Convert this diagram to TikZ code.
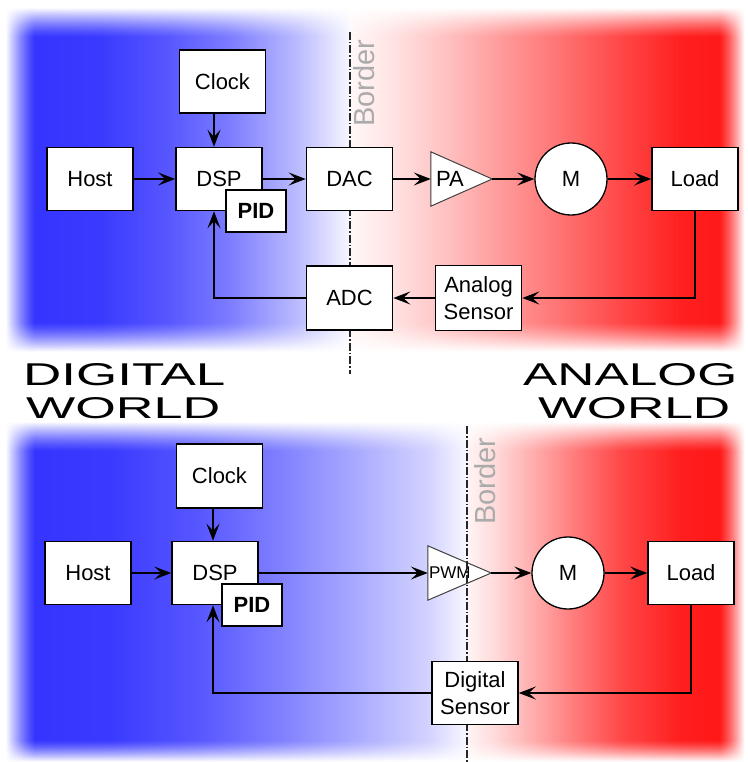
\documentclass[tikz,border=0pt]{standalone}
\usepackage{fontspec}
\usepackage{graphicx}
\setmainfont{Liberation Sans}
\usetikzlibrary{arrows.meta,calc}

% one horizontal colour segment of a panel background
\newcommand\gradseg[6]{%
  \definecolor{segL}{RGB}{#3}\definecolor{segR}{RGB}{#4}%
  \shade[left color=segL, right color=segR] (#1,#5) rectangle ({#2+0.8},#6);}

% soft white edge made of 1pt strips: #1 = first row, #2 = number of rows,
% #3 = +1 (white at the first row) or -1 (white at the last row), #4 = h or v
\newcommand\softedge[4]{%
  \foreach \k in {0,...,\numexpr#2-1\relax}{%
    \pgfmathsetmacro\op{#3>0 ? (1-(\k+0.5)/#2)^1.3 : ((\k+0.5)/#2)^1.3}%
    \ifx#4h%
      \fill[white, opacity=\op] (0,{#1+\k}) rectangle (747,{#1+\k+1});%
    \else
      \fill[white, opacity=\op] ({#1+\k},0) rectangle ({#1+\k+1},762);%
    \fi}}

\begin{document}
\begin{tikzpicture}[x=1pt,y=-1pt,
  blk/.style={draw=black, line width=1.6pt, fill=white, minimum width=86pt,
    minimum height=63pt, inner sep=0pt, align=center,
    font=\fontsize{22}{27}\selectfont},
  pidbox/.style={blk, minimum width=60pt, minimum height=42pt,
    font=\fontsize{22}{27}\selectfont\bfseries},
  motor/.style={circle, draw=black, line width=1.3pt, fill=white,
    minimum size=72pt, inner sep=0pt, font=\fontsize{22}{27}\selectfont},
  ampbox/.style={minimum width=61pt, minimum height=54pt, inner sep=0pt},
  amp/.style={draw=black!75, line width=1pt, fill=white},
  amptext/.style={anchor=west, inner sep=0pt},
  wire/.style={line width=1.7pt},
  flow/.style={wire, -{Stealth[length=17pt,width=13pt,inset=7pt]}},
  borderline/.style={line width=1.3pt, black!85,
    dash pattern=on 8pt off 2pt on 1.5pt off 2pt},
  bordertag/.style={text=black!33, rotate=90, anchor=base, inner sep=0pt,
    font=\fontsize{29}{32}\selectfont},
  world/.style={inner sep=0pt, anchor=base west},
]
\useasboundingbox (0,0) rectangle (747,762);
\fill[white] (0,0) rectangle (747,762);

% ---- background of the upper panel
\gradseg{4}{100}{50,50,255}{58,58,255}{6}{358}
\gradseg{100}{170}{58,58,255}{88,88,255}{6}{358}
\gradseg{170}{230}{88,88,255}{125,125,255}{6}{358}
\gradseg{230}{300}{125,125,255}{190,190,255}{6}{358}
\gradseg{300}{350}{190,190,255}{248,248,255}{6}{358}
\gradseg{350}{400}{255,248,248}{255,222,222}{6}{358}
\gradseg{400}{450}{255,222,222}{255,190,190}{6}{358}
\gradseg{450}{500}{255,190,190}{255,155,155}{6}{358}
\gradseg{500}{560}{255,155,155}{255,115,115}{6}{358}
\gradseg{560}{620}{255,115,115}{255,72,72}{6}{358}
\gradseg{620}{680}{255,72,72}{255,32,32}{6}{358}
\gradseg{680}{746}{255,32,32}{255,20,20}{6}{358}

% ---- background of the lower panel
\gradseg{4}{110}{50,50,255}{58,58,255}{420}{762}
\gradseg{110}{200}{58,58,255}{88,88,255}{420}{762}
\gradseg{200}{280}{88,88,255}{128,128,255}{420}{762}
\gradseg{280}{360}{128,128,255}{172,172,255}{420}{762}
\gradseg{360}{430}{172,172,255}{212,212,255}{420}{762}
\gradseg{430}{467}{212,212,255}{250,248,255}{420}{762}
\gradseg{467}{500}{255,245,245}{255,212,212}{420}{762}
\gradseg{500}{560}{255,212,212}{255,140,140}{420}{762}
\gradseg{560}{620}{255,140,140}{255,72,72}{420}{762}
\gradseg{620}{680}{255,72,72}{255,30,30}{420}{762}
\gradseg{680}{746}{255,30,30}{255,20,20}{420}{762}

% ---- soft white edges of both panels
\fill[white] (0,0) rectangle (747,8);
\softedge{8}{30}{1}{h}
\softedge{322}{30}{-1}{h}
\fill[white] (0,352) rectangle (747,422);
\softedge{422}{30}{1}{h}
\softedge{740}{22}{-1}{h}
\fill[white] (0,0) rectangle (6,762);
\softedge{6}{30}{1}{v}
\softedge{719}{26}{-1}{v}
\fill[white] (745,0) rectangle (747,762);

% ---- upper loop: DAC / ADC
\draw[borderline] (350,32) -- (350,374);
\node[bordertag] (tagA) at (374,83) {Border};

\node[blk] (clockA) at (222.5,81.5) {Clock};
\node[blk] (hostA) at (90,179) {Host};
\node[blk] (dspA) at (219,179) {DSP};
\node[pidbox] (pidA) at (256,211) {PID};
\node[blk] (dacA) at (349.5,179) {DAC};
\node[ampbox] (paA) at (461.5,179) {};
\draw[amp] (paA.north west) -- (paA.east) -- (paA.south west) -- cycle;
\node[amptext, font=\fontsize{22}{27}\selectfont] (paAtxt) at ($(paA.west)+(5,0)$) {PA};
\node[motor] (mA) at (571,179) {M};
\node[blk] (loadA) at (695,179) {Load};
\node[blk, minimum height=65pt] (sensA) at (478.5,298) {Analog\\Sensor};
\node[blk, minimum height=64pt] (adcA) at (349.5,298) {ADC};
\coordinate (fbA) at (214,298);

\draw[flow] (hostA) -- (dspA);
\draw[flow] (clockA.south -| fbA) -- (dspA.north -| fbA);
\draw[flow] (dspA.east) -- (dacA.west);
\draw[flow] (dacA.east) -- (paA.west);
\draw[flow] (paA.east) -- (mA.west);
\draw[flow] (mA.east) -- (loadA.west);
\draw[flow] (loadA.south) |- (sensA.east);
\draw[flow] (sensA.west) -- (adcA.east);
\draw[flow] (adcA.west) -| (dspA.south -| fbA);

% ---- world captions
\node[world] (digA) at (23,385) {\resizebox{202pt}{22pt}{DIGITAL}};
\node[world] (digB) at (26,418) {\resizebox{194pt}{21pt}{WORLD}};
\node[world] (anaA) at (523,385) {\resizebox{214pt}{22pt}{ANALOG}};
\node[world] (anaB) at (538,418) {\resizebox{192pt}{21pt}{WORLD}};

% ---- lower loop: PWM / digital sensor
\node[ampbox, minimum width=63pt] (pwmB) at (459.5,573) {};
\draw[amp] (pwmB.north west) -- (pwmB.east) -- (pwmB.south west) -- cycle;
\node[amptext, font=\fontsize{17}{20}\selectfont] (pwmBtxt) at ($(pwmB.west)+(1,0)$) {PWM};

\draw[borderline] (467,426) -- (467,764);
\node[bordertag] (tagB) at (495,481) {Border};

\node[blk, minimum height=64pt] (clockB) at (219.5,476) {Clock};
\node[blk] (hostB) at (88,573) {Host};
\node[blk] (dspB) at (215,573) {DSP};
\node[pidbox] (pidB) at (252,605) {PID};
\node[motor] (mB) at (568,573) {M};
\node[blk] (loadB) at (691,573) {Load};
\node[blk] (sensB) at (475,693) {Digital\\Sensor};
\coordinate (fbB) at (213,693);

\draw[flow] (hostB) -- (dspB);
\draw[flow] (clockB.south -| fbB) -- (dspB.north -| fbB);
\draw[flow] (dspB.east) -- (pwmB.west);
\draw[flow] (pwmB.east) -- (mB.west);
\draw[flow] (mB.east) -- (loadB.west);
\draw[flow] (loadB.south) |- (sensB.east);
\draw[flow] (sensB.west) -| (dspB.south -| fbB);
\end{tikzpicture}
\end{document}
